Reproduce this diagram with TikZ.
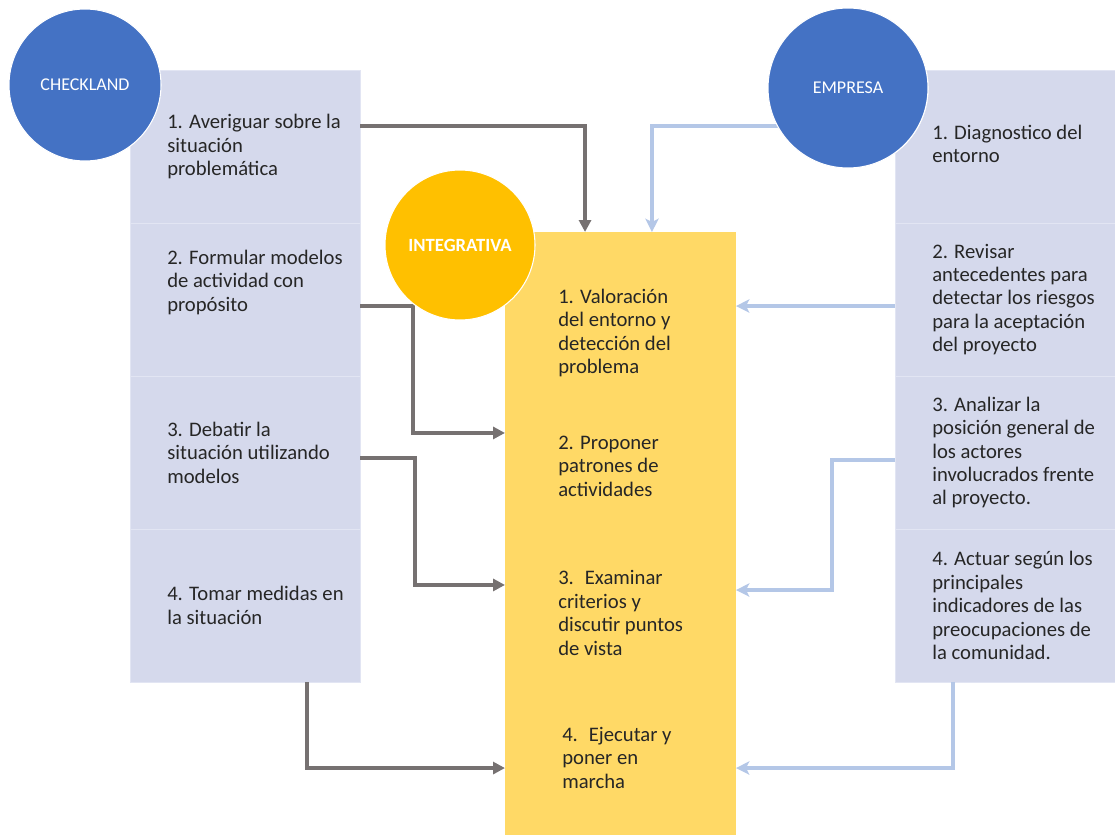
\documentclass[tikz,border=0pt]{standalone}
\usepackage{fontspec}
\setmainfont{Carlito}
\usetikzlibrary{positioning,arrows.meta}

\definecolor{boxfill}{HTML}{D5D9EC}
\definecolor{boxline}{HTML}{E2E5F3}
\definecolor{midfill}{HTML}{FFD966}
\definecolor{intfill}{HTML}{FFC000}
\definecolor{circblue}{HTML}{4472C4}
\definecolor{darkline}{HTML}{767171}
\definecolor{lightline}{HTML}{B4C7E7}

\tikzset{
  colbox/.style={rectangle, fill=boxfill, draw=boxline, line width=0.6pt,
    minimum height=114.75pt, inner sep=0pt, outer sep=0pt},
  txt/.style={font=\fontsize{15.5}{17.6}\selectfont, align=left,
    inner sep=0pt, text=black!85},
  bigcirc/.style={circle, draw=white, line width=0.8pt, inner sep=0pt,
    font=\fontsize{13.5}{15}\selectfont, text=white},
  darkarrow/.style={draw=darkline, line width=2.6pt,
    -{Triangle[length=9pt,width=9pt]}},
  lightarrow/.style={draw=lightline, line width=2.6pt,
    -{Stealth[length=10pt,width=10pt,inset=2.5pt]}}
}

\begin{document}
\begin{tikzpicture}[x=0.75pt,y=-0.75pt]
  \useasboundingbox (0,0) rectangle (1115,835);

  % columns
  \node[colbox, minimum width=172.5pt] (c1) at (245,146.5) {};
  \node[colbox, minimum width=172.5pt, below=0pt of c1] (c2) {};
  \node[colbox, minimum width=172.5pt, below=0pt of c2] (c3) {};
  \node[colbox, minimum width=172.5pt, below=0pt of c3] (c4) {};

  \node[colbox, minimum width=165pt] (r1) at (1005,146.5) {};
  \node[colbox, minimum width=165pt, below=0pt of r1] (r2) {};
  \node[colbox, minimum width=165pt, below=0pt of r2] (r3) {};
  \node[colbox, minimum width=165pt, below=0pt of r3] (r4) {};

  \node[rectangle, fill=midfill, minimum width=173.25pt, minimum height=452.25pt,
    inner sep=0pt, outer sep=0pt] (m) at (620.5,533.5) {};

  % texts
  \node[txt, right=27.75pt of c1.west] (tc1) {1. Averiguar sobre la\\situación\\problemática};
  \node[txt, right=27.75pt of c2.west, yshift=13pt] (tc2) {2. Formular modelos\\de actividad con\\propósito};
  \node[txt, right=27.75pt of c3.west] (tc3) {3. Debatir la\\situación utilizando\\modelos};
  \node[txt, right=27.75pt of c4.west] (tc4) {4. Tomar medidas en\\la situación};

  \node[txt, right=27.75pt of r1.west, yshift=2pt] (tr1) {1. Diagnostico del\\entorno};
  \node[txt, right=27.75pt of r2.west] (tr2) {2. Revisar\\antecedentes para\\detectar los riesgos\\para la aceptación\\del proyecto};
  \node[txt, right=27.75pt of r3.west] (tr3) {3. Analizar la\\posición general de\\los actores\\involucrados frente\\al proyecto.};
  \node[txt, right=27.75pt of r4.west] (tr4) {4. Actuar según los\\principales\\indicadores de las\\preocupaciones de\\la comunidad.};

  \node[txt, right=39.75pt of m.west, yshift=150.4pt] (tm1) {1. Valoración\\del entorno y\\detección del\\problema};
  \node[txt, right=39.75pt of m.west, yshift=50.6pt] (tm2) {2. Proponer\\patrones de\\actividades};
  \node[txt, right=39.75pt of m.west, yshift=-59.6pt] (tm3) {3.~ Examinar\\criterios y\\discutir puntos\\de vista};
  \node[txt, right=42.75pt of m.west, yshift=-168pt] (tm4) {4.~ Ejecutar y\\poner en\\marcha};

  % connectors
  \draw[darkarrow] ([yshift=15.4pt]c1.east) -| ([xshift=-26.6pt]m.north);
  \draw[darkarrow] ([yshift=-4.9pt]c2.east) -- ++(53,0) |- ([yshift=75.4pt]m.west);
  \draw[darkarrow] ([yshift=-4.1pt]c3.east) -- ++(55,0) |- ([yshift=-38.6pt]m.west);
  \draw[darkarrow] ([xshift=46.5pt]c4.south) |- ([yshift=-175.9pt]m.west);

  \node[bigcirc, fill=circblue, minimum size=120pt] (emp) at (848,88) {};
  \draw[lightarrow] ([yshift=-28.5pt]emp.center) -| ([xshift=23.6pt]m.north);
  \draw[lightarrow] ([yshift=-4.9pt]r2.west) -- ([yshift=-4.9pt]r2.west -| m.east);
  \draw[lightarrow] ([yshift=-5.6pt]r3.west) -- ++(-63,0) |- ([yshift=-42.4pt]m.east);
  \draw[lightarrow] ([xshift=-39pt]r4.south) |- ([yshift=-175.9pt]m.east);

  % circles
  \node[bigcirc, fill=circblue, minimum size=114pt] (chk) at (85,85) {CHECKLAND};
  \node[bigcirc, fill=circblue, minimum size=120pt] at (emp) {EMPRESA};
  \node[bigcirc, fill=intfill, minimum size=112.5pt, font=\fontsize{14}{16}\selectfont\bfseries] (intg) at (460,245) {INTEGRATIVA};
\end{tikzpicture}
\end{document}
